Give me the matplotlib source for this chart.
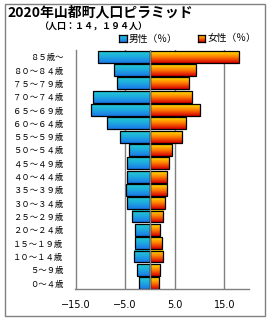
import matplotlib
matplotlib.use('Agg')
import matplotlib.pyplot as plt
import numpy as np
from matplotlib.colors import LinearSegmentedColormap
from matplotlib.patches import Rectangle

plt.rcParams['font.family'] = ['Noto Sans CJK JP', 'DejaVu Sans']

# age groups, bottom to top
age_groups = ['０～４歳', '５～９歳', '１０～１４歳', '１５～１９歳', '２０～２４歳',
              '２５～２９歳', '３０～３４歳', '３５～３９歳', '４０～４４歳', '４５～４９歳',
              '５０～５４歳', '５５～５９歳', '６０～６４歳', '６５～６９歳', '７０～７４歳',
              '７５～７９歳', '８０～８４歳', '８５歳～']
male = [2.1, 2.5, 3.2, 2.9, 2.9, 3.7, 4.6, 4.8, 4.6, 4.6,
        4.3, 6.1, 8.7, 11.8, 11.4, 6.7, 7.3, 10.4]
female = [1.9, 2.1, 2.7, 2.5, 2.1, 2.7, 3.1, 3.5, 3.5, 3.9,
          4.4, 6.5, 7.3, 10.2, 8.5, 7.9, 9.3, 18.0]
x_ticks = [-15, -5, 5, 15]

W, H = 270, 320
fig = plt.figure(figsize=(W / 100, H / 100), dpi=100)


def fx(x):
    return x / W


def fy(y):
    return 1 - y / H


male_cmap = LinearSegmentedColormap.from_list('m', ['#1a78e8', '#1ea8e0', '#22cfd2'])
female_cmap = LinearSegmentedColormap.from_list('f', ['#d40000', '#ff7a00', '#ffe600'])
grad = np.linspace(0, 1, 64).reshape(-1, 1)

ax = fig.add_axes([fx(75.5), fy(289), fx(249) - fx(75.5), fy(49.5) - fy(289)])

y = np.arange(len(age_groups))
mbars = ax.barh(y, -np.array(male), height=0.88, facecolor='none',
                edgecolor='black', linewidth=0.9, zorder=3)
fbars = ax.barh(y, female, height=0.88, facecolor='none',
                edgecolor='black', linewidth=0.9, zorder=3)

# fill every bar with a vertical gradient
for bars, cm in [(mbars, male_cmap), (fbars, female_cmap)]:
    for b in bars:
        bb = b.get_bbox()
        ax.imshow(grad, extent=[bb.x0, bb.x1, bb.y0, bb.y1], origin='lower',
                  aspect='auto', cmap=cm, zorder=2, interpolation='bilinear')

for v in x_ticks[1:]:
    ax.axvline(v, color='#808080', lw=1, zorder=1)
ax.axvline(0, color='#808080', lw=1, zorder=4)

ax.set_xlim(-15, 20)
ax.set_ylim(-0.43, 17.54)
ax.set_xticks(x_ticks)
ax.set_xticklabels([f'{v:.1f}'.replace('-', '−') for v in x_ticks],
                   fontsize=7, family=['DejaVu Sans'])
ax.set_yticks(y)
ax.set_yticklabels(age_groups, fontsize=6)
ax.tick_params(axis='x', length=0, pad=8)
ax.tick_params(axis='y', length=0, pad=8.5)
for s in ['top', 'right']:
    ax.spines[s].set_visible(False)
for s in ['left', 'bottom']:
    ax.spines[s].set_color('#808080')
    ax.spines[s].set_linewidth(1)

# titles
fig.text(fx(7), fy(12), '2020年山都町人口ピラミッド', fontsize=10, fontweight='bold',
         ha='left', va='center')
fig.text(fx(93), fy(27), '（人口：１４，１９４人）', fontsize=6.5, fontweight='bold',
         ha='center', va='center')

# legend
for x0, cm, label in [(119.3, male_cmap, '男性（％）'), (197.7, female_cmap, '女性（％）')]:
    lax = fig.add_axes([fx(x0), fy(42.3), 7.4 / W, 7.3 / H])
    lax.imshow(grad, origin='lower', aspect='auto', cmap=cm, extent=[0, 1, 0, 1])
    lax.set_xticks([])
    lax.set_yticks([])
    for s in lax.spines.values():
        s.set_color('black')
        s.set_linewidth(0.9)
    fig.text(fx(x0 + 9.5), fy(38.5), label, fontsize=7, ha='left', va='center')

# outer frame
fig.patches.append(Rectangle((fx(5.3), fy(315.7)), fx(265.3) - fx(5.3), fy(4) - fy(315.7),
                             transform=fig.transFigure, fill=False,
                             edgecolor='#808080', linewidth=1))

fig.savefig('out.png', dpi=100)
